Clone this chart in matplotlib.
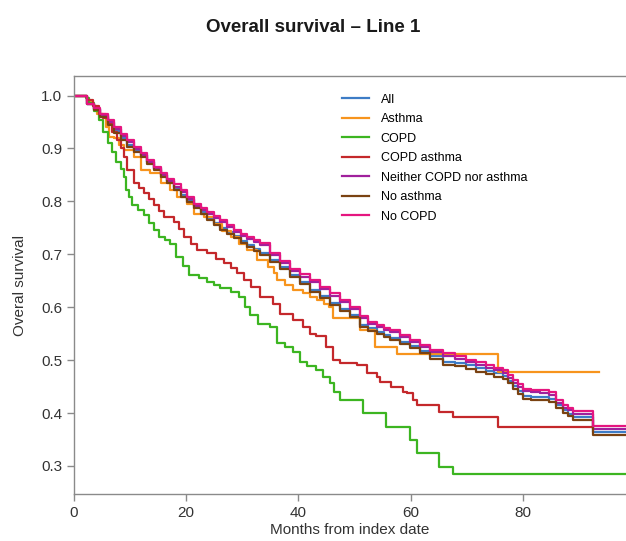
import matplotlib
matplotlib.use("Agg")
import matplotlib.pyplot as plt

plt.rcParams['font.family'] = ['Liberation Sans', 'DejaVu Sans']

# === Kaplan-Meier curves (time in months, survival) ===
t_no_copd = [0, 2.4, 3.6, 4.7, 6.0, 7.1, 8.3, 9.5, 10.7, 11.9, 13.1, 14.2, 15.5, 16.6,
             17.9, 19.0, 20.2, 21.4, 22.6, 23.7, 25.0, 26.1, 27.3, 28.5, 29.7, 30.9,
             32.0, 33.2, 35.0, 36.7, 38.5, 40.2, 42.1, 43.9, 45.6, 47.5, 49.2, 51.0,
             52.4, 54.0, 55.2, 56.4, 58.1, 59.9, 61.6, 63.5, 65.8, 68.0, 69.9, 71.7,
             73.5, 74.9, 76.4, 77.3, 78.2, 79.2, 80.0, 81.5, 83.0, 84.7, 86.0, 87.1,
             88.0, 88.9, 92.5, 99]
s_no_copd = [1.0, 0.985, 0.976, 0.966, 0.953, 0.941, 0.928, 0.916, 0.903, 0.891, 0.878,
             0.865, 0.854, 0.843, 0.832, 0.821, 0.808, 0.796, 0.788, 0.780, 0.772, 0.765,
             0.755, 0.746, 0.739, 0.733, 0.727, 0.721, 0.703, 0.688, 0.673, 0.662, 0.651,
             0.638, 0.626, 0.613, 0.601, 0.583, 0.573, 0.566, 0.561, 0.557, 0.547, 0.538,
             0.528, 0.519, 0.513, 0.507, 0.501, 0.496, 0.490, 0.486, 0.481, 0.472, 0.462,
             0.454, 0.446, 0.444, 0.443, 0.440, 0.424, 0.415, 0.410, 0.403, 0.375, 0.375]

t_neither = t_no_copd
s_neither = [1.0, 0.984, 0.974, 0.963, 0.950, 0.937, 0.924, 0.912, 0.899, 0.887, 0.874,
             0.861, 0.850, 0.839, 0.828, 0.817, 0.804, 0.792, 0.784, 0.776, 0.768, 0.761,
             0.751, 0.742, 0.735, 0.729, 0.723, 0.717, 0.699, 0.684, 0.669, 0.658, 0.647,
             0.634, 0.622, 0.609, 0.597, 0.579, 0.569, 0.562, 0.557, 0.553, 0.543, 0.534,
             0.524, 0.515, 0.508, 0.502, 0.496, 0.491, 0.485, 0.481, 0.476, 0.467, 0.457,
             0.449, 0.441, 0.439, 0.438, 0.435, 0.419, 0.410, 0.405, 0.398, 0.370, 0.370]

t_no_asthma = t_no_copd
s_no_asthma = [1.0, 0.984, 0.973, 0.960, 0.945, 0.929, 0.916, 0.903, 0.894, 0.884, 0.871,
               0.859, 0.846, 0.834, 0.821, 0.809, 0.798, 0.787, 0.776, 0.765, 0.755, 0.746,
               0.738, 0.730, 0.722, 0.714, 0.706, 0.698, 0.686, 0.672, 0.657, 0.643, 0.629,
               0.617, 0.604, 0.593, 0.582, 0.563, 0.556, 0.550, 0.544, 0.538, 0.531, 0.522,
               0.513, 0.502, 0.490, 0.488, 0.484, 0.478, 0.473, 0.469, 0.465, 0.456, 0.446,
               0.436, 0.426, 0.425, 0.424, 0.421, 0.409, 0.400, 0.394, 0.387, 0.358, 0.358]

t_all = t_no_copd
s_all = [1.0, 0.985, 0.975, 0.962, 0.948, 0.933, 0.920, 0.907, 0.898, 0.888, 0.875,
         0.863, 0.850, 0.838, 0.825, 0.813, 0.802, 0.791, 0.780, 0.769, 0.759, 0.750,
         0.742, 0.734, 0.726, 0.718, 0.710, 0.702, 0.690, 0.676, 0.661, 0.647, 0.633,
         0.621, 0.608, 0.597, 0.586, 0.567, 0.560, 0.554, 0.548, 0.542, 0.535, 0.527,
         0.518, 0.508, 0.497, 0.494, 0.490, 0.485, 0.480, 0.475, 0.470, 0.461, 0.452,
         0.442, 0.433, 0.431, 0.430, 0.427, 0.415, 0.406, 0.399, 0.392, 0.365, 0.365]

t_asthma = [0, 2.4, 3.3, 4.1, 5.7, 6.2, 7.1, 8.1, 8.9, 10.7, 11.9, 13.6, 15.5, 17.2, 18.4,
            20.2, 21.4, 23.2, 25.0, 26.4, 28.0, 29.4, 30.9, 32.7, 34.5, 35.6, 36.1, 37.7,
            39.1, 40.8, 42.1, 43.3, 44.5, 45.4, 46.2, 51.0, 53.7, 57.5, 75.5, 93.6]
s_asthma = [1.0, 0.990, 0.980, 0.966, 0.941, 0.922, 0.919, 0.906, 0.897, 0.884, 0.859,
            0.853, 0.834, 0.821, 0.809, 0.796, 0.777, 0.771, 0.758, 0.745, 0.733, 0.720,
            0.708, 0.689, 0.676, 0.664, 0.651, 0.642, 0.632, 0.626, 0.620, 0.613, 0.607,
            0.601, 0.579, 0.557, 0.525, 0.511, 0.477, 0.477]

t_copd = [0, 2.1, 2.7, 3.6, 4.4, 5.2, 6.0, 6.7, 7.4, 8.3, 8.9, 9.2, 9.8, 10.4, 11.4, 12.5,
          13.4, 14.2, 15.2, 16.2, 17.2, 18.2, 19.4, 20.5, 22.2, 23.7, 25.0, 26.1, 27.9,
          29.4, 30.4, 31.4, 32.8, 35.0, 36.1, 37.7, 39.1, 40.2, 41.6, 43.2, 44.4, 45.6,
          46.4, 47.4, 51.6, 55.7, 59.9, 61.1, 65.1, 67.5, 99]
s_copd = [1.0, 0.995, 0.986, 0.970, 0.954, 0.932, 0.910, 0.893, 0.875, 0.862, 0.847,
          0.821, 0.808, 0.793, 0.784, 0.774, 0.760, 0.746, 0.733, 0.727, 0.720, 0.695,
          0.678, 0.661, 0.655, 0.648, 0.642, 0.636, 0.628, 0.620, 0.600, 0.585, 0.569,
          0.563, 0.532, 0.524, 0.516, 0.497, 0.489, 0.481, 0.468, 0.456, 0.440, 0.424,
          0.400, 0.374, 0.349, 0.324, 0.298, 0.285, 0.285]

t_copd_asthma = [0, 2.4, 3.4, 4.4, 5.2, 6.0, 6.8, 7.7, 8.3, 8.9, 9.5, 10.7, 11.6, 12.5,
                 13.4, 14.2, 15.1, 16.0, 17.9, 18.8, 19.6, 20.8, 22.0, 23.7, 25.3, 26.7,
                 27.9, 29.1, 30.3, 31.5, 33.1, 35.5, 36.7, 39.1, 40.9, 42.1, 43.2, 45.0,
                 46.2, 47.4, 50.4, 52.2, 54.0, 54.6, 56.5, 58.7, 59.4, 60.5, 61.1, 65.1,
                 67.5, 75.5, 92.3]
s_copd_asthma = [1.0, 0.991, 0.980, 0.966, 0.957, 0.947, 0.932, 0.916, 0.900, 0.884,
                 0.859, 0.834, 0.825, 0.815, 0.804, 0.793, 0.782, 0.771, 0.761, 0.747,
                 0.733, 0.720, 0.708, 0.702, 0.692, 0.683, 0.674, 0.664, 0.652, 0.639,
                 0.620, 0.607, 0.588, 0.576, 0.563, 0.550, 0.545, 0.525, 0.500, 0.494,
                 0.490, 0.475, 0.468, 0.459, 0.450, 0.440, 0.437, 0.424, 0.415, 0.402,
                 0.393, 0.374, 0.374]

labels = ['All', 'Asthma', 'COPD', 'COPD asthma', 'Neither COPD nor asthma',
          'No asthma', 'No COPD']
colors = ['#3d7cc6', '#f7941d', '#3cb521', '#c4282b', '#a0209c', '#7a4212', '#e5157f']
curves = [(t_all, s_all), (t_asthma, s_asthma), (t_copd, s_copd),
          (t_copd_asthma, s_copd_asthma), (t_neither, s_neither),
          (t_no_asthma, s_no_asthma), (t_no_copd, s_no_copd)]

# === Figura ===
fig = plt.figure(figsize=(6.26, 5.41), dpi=100)
ax = fig.add_axes([74/626, (541-494)/541, (626-74)/626, (494-76)/541])

for (t, s), lab, col in zip(curves, labels, colors):
    ax.step(t, s, where='post', color=col, lw=1.6, label=lab)

ax.set_xlim(0, 98.4)
ax.set_ylim(0.247, 1.037)
ax.set_xticks([0, 20, 40, 60, 80])
ax.set_yticks([0.3, 0.4, 0.5, 0.6, 0.7, 0.8, 0.9, 1.0])
ax.set_yticklabels(['%.1f' % v for v in ax.get_yticks()])

for side in ['left', 'bottom', 'top']:
    ax.spines[side].set_color('#8a8a8a')
    ax.spines[side].set_linewidth(1.0)
ax.spines['right'].set_visible(False)
ax.tick_params(colors='#8a8a8a', labelcolor='#333333', labelsize=11, length=5, width=1)

ax.set_xlabel('Months from index date', fontsize=11, color='#333333')
ax.set_ylabel('Overal survival', fontsize=11, color='#333333')
ax.xaxis.set_label_coords(0.5, -0.069)
ax.yaxis.set_label_coords(-0.085, 0.5)

ax.legend(loc='upper left', bbox_to_anchor=(0.465, 0.985), frameon=False, fontsize=9,
          handlelength=2.2, handletextpad=0.9, labelspacing=0.6)

fig.text(0.5, 1 - 27/541, 'Overall survival \u2013 Line 1', ha='center', va='center',
         fontsize=13.5, fontweight='bold', color='#1a1a1a')

fig.savefig('out.png', dpi=100)
